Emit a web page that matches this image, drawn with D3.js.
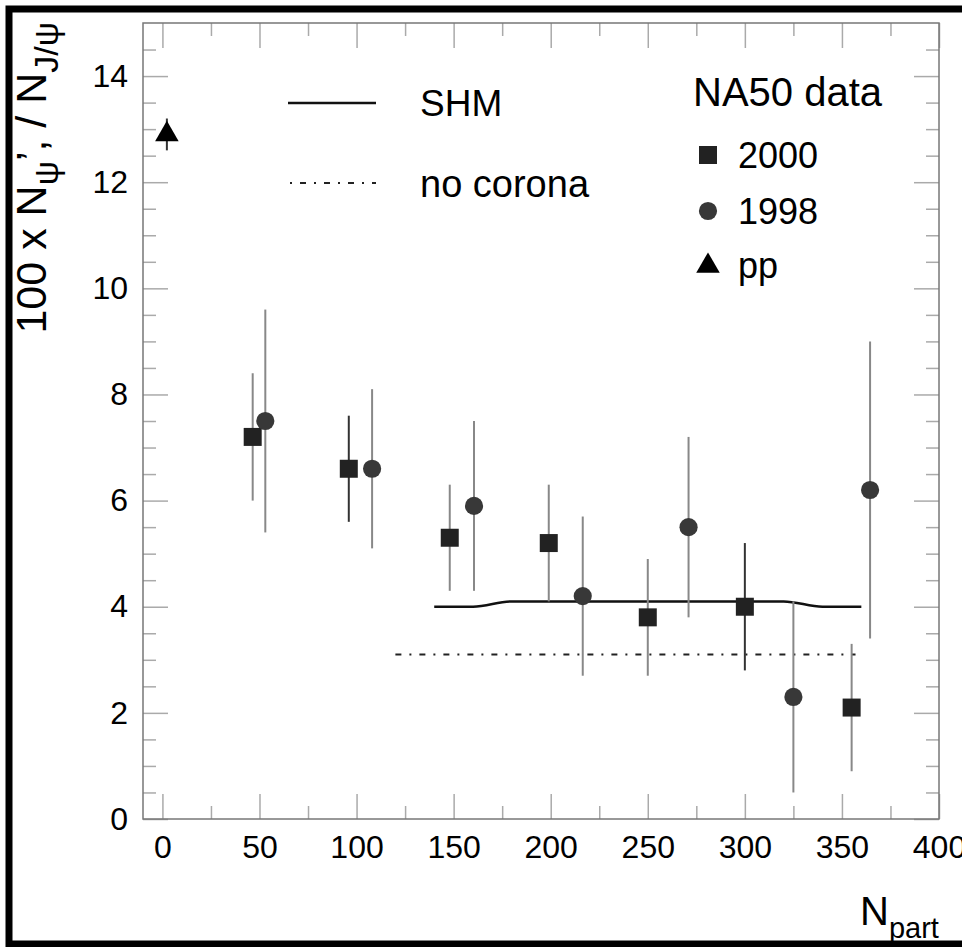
<!DOCTYPE html>
<html>
<head>
<meta charset="utf-8">
<script src="https://cdn.jsdelivr.net/npm/d3@7"></script>
<style>
  html, body { margin: 0; padding: 0; background: #fff; }
  text { font-family: "Liberation Sans", Arial, Helvetica, sans-serif; fill: #000; }
</style>
</head>
<body>
<div class="svg"></div>
<script>
// NA50 data, 2000 run (squares)
const npart2000 = [46.5, 96, 148, 199, 250, 300, 355]
const ratio2000 = [7.2, 6.6, 5.3, 5.2, 3.8, 4.0, 2.1]
const lo2000 = [6.0, 5.6, 4.3, 4.1, 2.7, 2.8, 0.9]
const hi2000 = [8.4, 7.6, 6.3, 6.3, 4.9, 5.2, 3.3]

// NA50 data, 1998 run (circles)
const npart1998 = [53, 108, 160.5, 216.5, 271, 325, 364.5]
const ratio1998 = [7.5, 6.6, 5.9, 4.2, 5.5, 2.3, 6.2]
const lo1998 = [5.4, 5.1, 4.3, 2.7, 3.8, 0.5, 3.4]
const hi1998 = [9.6, 8.1, 7.5, 5.7, 7.2, 4.1, 9.0]

// pp reference (triangle)
const nppp = [2.3]
const ratioPP = [12.9]
const loPP = [12.6]
const hiPP = [13.2]

// model curves
const shmN = [140, 160, 180, 320, 340, 360]
const shmV = [4.0, 4.0, 4.1, 4.1, 4.0, 4.0]
const coronaN = [120, 357]
const coronaV = [3.1, 3.1]

const xMajor = [0, 50, 100, 150, 200, 250, 300, 350, 400]
const xMinor = [25, 75, 125, 175, 225, 275, 325, 375]
const yMajor = [0, 2, 4, 6, 8, 10, 12, 14]
const yMinor = [0.5, 1, 1.5, 2.5, 3, 3.5, 4.5, 5, 5.5, 6.5, 7, 7.5, 8.5, 9, 9.5, 10.5, 11, 11.5, 12.5, 13, 13.5, 14.5]

// error bars drawn darker than the rest
const darkBars = new Set(['2000-96', '2000-300'])

const width = 962
const height = 947
const plotLeft = 143
const plotRight = 939
const plotTop = 23
const plotBottom = 819

const x = d3.scaleLinear().domain([-10, 400]).range([plotLeft, plotRight])
const y = d3.scaleLinear().domain([0, 15]).range([plotBottom, plotTop])

const svg = d3
  .select('.svg')
  .append('svg')
  .attr('width', width)
  .attr('height', height)
  .attr('viewBox', [0, 0, width, height])

svg.append('rect').attr('width', width).attr('height', height).attr('fill', '#fff')

// outer black frame
svg
  .append('rect')
  .attr('x', 9)
  .attr('y', 9)
  .attr('width', 1000)
  .attr('height', 935)
  .attr('fill', 'none')
  .attr('stroke', '#000')
  .attr('stroke-width', 7)

function styleTicks(g) {
  g.select('.domain').remove()
  g.selectAll('.tick line').attr('stroke', '#aaa').attr('stroke-width', 1.5)
  g.selectAll('.tick text').style('font-size', '32px').attr('fill', '#000')
}

// bottom axis
svg
  .append('g')
  .attr('transform', `translate(0,${plotBottom})`)
  .call(d3.axisBottom(x).tickValues(xMajor).tickSizeInner(-25).tickSizeOuter(0).tickPadding(16))
  .call(styleTicks)
svg
  .append('g')
  .attr('transform', `translate(0,${plotBottom})`)
  .call(d3.axisBottom(x).tickValues(xMinor).tickSize(-13).tickFormat(''))
  .call(styleTicks)

// top axis
svg
  .append('g')
  .attr('transform', `translate(0,${plotTop})`)
  .call(d3.axisTop(x).tickValues(xMajor).tickSize(-25).tickFormat(''))
  .call(styleTicks)
svg
  .append('g')
  .attr('transform', `translate(0,${plotTop})`)
  .call(d3.axisTop(x).tickValues(xMinor).tickSize(-13).tickFormat(''))
  .call(styleTicks)

// left axis
svg
  .append('g')
  .attr('transform', `translate(${plotLeft},0)`)
  .call(d3.axisLeft(y).tickValues(yMajor).tickSizeInner(-25).tickSizeOuter(0).tickPadding(15))
  .call(styleTicks)
svg
  .append('g')
  .attr('transform', `translate(${plotLeft},0)`)
  .call(d3.axisLeft(y).tickValues(yMinor).tickSize(-13).tickFormat(''))
  .call(styleTicks)

// right axis
svg
  .append('g')
  .attr('transform', `translate(${plotRight},0)`)
  .call(d3.axisRight(y).tickValues(yMajor).tickSize(-25).tickFormat(''))
  .call(styleTicks)
svg
  .append('g')
  .attr('transform', `translate(${plotRight},0)`)
  .call(d3.axisRight(y).tickValues(yMinor).tickSize(-13).tickFormat(''))
  .call(styleTicks)

// plot frame
svg
  .append('rect')
  .attr('x', plotLeft)
  .attr('y', plotTop)
  .attr('width', plotRight - plotLeft)
  .attr('height', plotBottom - plotTop)
  .attr('fill', 'none')
  .attr('stroke', '#777')
  .attr('stroke-width', 1.5)

// axis titles
const xTitle = svg
  .append('text')
  .attr('x', 860)
  .attr('y', 925)
  .style('font-size', '40px')
xTitle.append('tspan').text('N')
xTitle.append('tspan').attr('dy', 13).style('font-size', '29px').text('part')

const yTitle = svg
  .append('text')
  .attr('transform', 'translate(46,22) rotate(-90)')
  .attr('text-anchor', 'end')
  .style('font-size', '43px')
yTitle.append('tspan').text('100 x N')
yTitle.append('tspan').attr('dy', 12).style('font-size', '34px').text('ψ')
yTitle.append('tspan').attr('dy', -12).text('’, / N')
yTitle.append('tspan').attr('dy', 12).style('font-size', '34px').text('J/ψ')

// model curves
const line = d3
  .line()
  .x((d) => x(d[0]))
  .y((d) => y(d[1]))
  .curve(d3.curveMonotoneX)

svg
  .append('path')
  .datum(shmN.map((n, i) => [n, shmV[i]]))
  .attr('d', line)
  .attr('fill', 'none')
  .attr('stroke', '#111')
  .attr('stroke-width', 2.5)

svg
  .append('path')
  .datum(coronaN.map((n, i) => [n, coronaV[i]]))
  .attr('d', line)
  .attr('fill', 'none')
  .attr('stroke', '#222')
  .attr('stroke-width', 2.2)
  .attr('stroke-dasharray', '6,8,2,8')

// data series
function series(key, ns, vs, los, his) {
  return ns.map((n, i) => ({ key, n, v: vs[i], lo: los[i], hi: his[i] }))
}
const points = [
  ...series('2000', npart2000, ratio2000, lo2000, hi2000),
  ...series('1998', npart1998, ratio1998, lo1998, hi1998),
  ...series('pp', nppp, ratioPP, loPP, hiPP)
]

svg
  .append('g')
  .selectAll('line')
  .data(points)
  .enter()
  .append('line')
  .attr('x1', (d) => x(d.n))
  .attr('x2', (d) => x(d.n))
  .attr('y1', (d) => y(d.lo))
  .attr('y2', (d) => y(d.hi))
  .attr('stroke', (d) => (darkBars.has(`${d.key}-${d.n}`) || d.key === 'pp' ? '#333' : '#888'))
  .attr('stroke-width', 2)

const symbols = {
  2000: d3.symbol().type(d3.symbolSquare).size(324),
  1998: d3.symbol().type(d3.symbolCircle).size(260),
  pp: d3.symbol().type(d3.symbolTriangle).size(240)
}
const fills = { 2000: '#222', 1998: '#383838', pp: '#000' }

svg
  .append('g')
  .selectAll('path')
  .data(points)
  .enter()
  .append('path')
  .attr('transform', (d) => `translate(${x(d.n)},${y(d.v)})`)
  .attr('d', (d) => symbols[d.key]())
  .attr('fill', (d) => fills[d.key])

// legend
const legend = svg.append('g')
legend
  .append('line')
  .attr('x1', 288)
  .attr('x2', 376)
  .attr('y1', 103)
  .attr('y2', 103)
  .attr('stroke', '#111')
  .attr('stroke-width', 2.5)
legend
  .append('line')
  .attr('x1', 290)
  .attr('x2', 376)
  .attr('y1', 183)
  .attr('y2', 183)
  .attr('stroke', '#222')
  .attr('stroke-width', 2.2)
  .attr('stroke-dasharray', '2,8,6,8')

const legendText = [
  ['SHM', 420, 116, 37],
  ['no corona', 420, 197, 38],
  ['NA50 data', 693, 106, 40],
  ['2000', 738, 168, 36],
  ['1998', 738, 224, 36],
  ['pp', 738, 278, 36]
]
legend
  .selectAll('text')
  .data(legendText)
  .enter()
  .append('text')
  .attr('x', (d) => d[1])
  .attr('y', (d) => d[2])
  .style('font-size', (d) => `${d[3]}px`)
  .text((d) => d[0])

const legendMarks = [
  ['2000', 155],
  ['1998', 211],
  ['pp', 266]
]
legend
  .selectAll('path')
  .data(legendMarks)
  .enter()
  .append('path')
  .attr('transform', (d) => `translate(708,${d[1]})`)
  .attr('d', (d) => symbols[d[0]]())
  .attr('fill', (d) => fills[d[0]])
</script>
</body>
</html>
